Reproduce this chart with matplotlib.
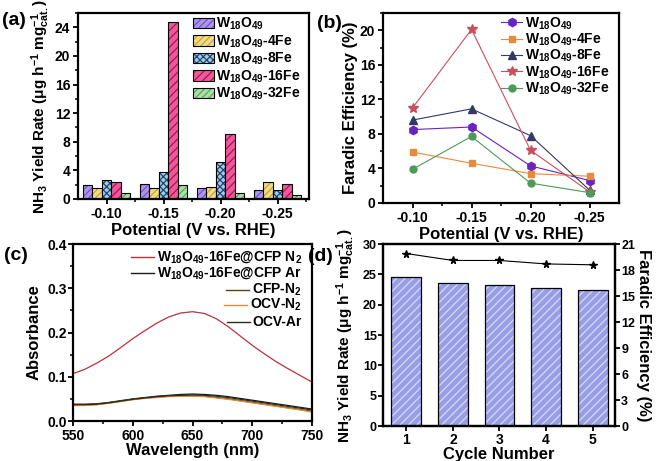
import matplotlib
matplotlib.use('Agg')
import matplotlib.pyplot as plt
from matplotlib.ticker import MultipleLocator, FixedLocator
from matplotlib.lines import Line2D
from matplotlib.patches import Patch
import numpy as np

plt.rcParams['font.family'] = ['Liberation Sans', 'DejaVu Sans']
plt.rcParams['font.weight'] = 'bold'
plt.rcParams['axes.labelweight'] = 'bold'
plt.rcParams['mathtext.fontset'] = 'custom'
plt.rcParams['mathtext.rm'] = 'Liberation Sans:bold'
plt.rcParams['mathtext.bf'] = 'Liberation Sans:bold'
plt.rcParams['mathtext.it'] = 'Liberation Sans:bold'
plt.rcParams['mathtext.default'] = 'rm'
plt.rcParams['axes.linewidth'] = 1.6
plt.rcParams['xtick.major.width'] = 1.3
plt.rcParams['ytick.major.width'] = 1.3
plt.rcParams['xtick.minor.width'] = 1.1
plt.rcParams['ytick.minor.width'] = 1.1
plt.rcParams['xtick.major.size'] = 3.5
plt.rcParams['ytick.major.size'] = 3.5
plt.rcParams['xtick.minor.size'] = 2
plt.rcParams['ytick.minor.size'] = 2
plt.rcParams['xtick.major.pad'] = 2.5
plt.rcParams['ytick.major.pad'] = 2.0
plt.rcParams['xtick.labelsize'] = 10
plt.rcParams['ytick.labelsize'] = 10
plt.rcParams['hatch.linewidth'] = 0.9

# ---- data ----
potentials = ['-0.10', '-0.15', '-0.20', '-0.25']
samples = [r'W$_{18}$O$_{49}$', r'W$_{18}$O$_{49}$-4Fe', r'W$_{18}$O$_{49}$-8Fe',
           r'W$_{18}$O$_{49}$-16Fe', r'W$_{18}$O$_{49}$-32Fe']

# (a) NH3 yield rate
yield_w = [1.9, 2.1, 1.5, 1.3]
yield_4fe = [1.6, 1.6, 1.7, 2.4]
yield_8fe = [2.6, 3.8, 5.2, 1.2]
yield_16fe = [2.4, 24.8, 9.1, 2.1]
yield_32fe = [0.9, 1.9, 0.9, 0.6]

# (b) faradic efficiency
fe_w = [8.5, 8.8, 4.3, 2.6]
fe_4fe = [5.9, 4.6, 3.4, 3.1]
fe_8fe = [9.6, 10.9, 7.8, 1.5]
fe_16fe = [11.0, 20.1, 6.1, 1.3]
fe_32fe = [3.9, 7.7, 2.3, 1.2]

# (c) UV-vis
wavelength = [550, 560, 570, 580, 590, 600, 610, 620, 630, 640, 650,
              660, 670, 680, 690, 700, 710, 720, 730, 740, 750]
abs_n2 = [0.107, 0.117, 0.131, 0.147, 0.166, 0.186, 0.204, 0.221, 0.235, 0.244, 0.247,
          0.243, 0.231, 0.213, 0.192, 0.171, 0.152, 0.134, 0.118, 0.103, 0.088]
abs_ar = [0.038, 0.038, 0.039, 0.042, 0.046, 0.050, 0.053, 0.056, 0.058, 0.060, 0.061,
          0.060, 0.058, 0.055, 0.051, 0.047, 0.043, 0.039, 0.035, 0.031, 0.027]
abs_cfp_n2 = [0.036, 0.036, 0.037, 0.041, 0.045, 0.049, 0.052, 0.054, 0.056, 0.057, 0.057,
              0.056, 0.053, 0.050, 0.046, 0.042, 0.038, 0.034, 0.030, 0.026, 0.022]
abs_ocv_n2 = [0.035, 0.035, 0.037, 0.040, 0.044, 0.048, 0.051, 0.053, 0.055, 0.056, 0.056,
              0.055, 0.052, 0.049, 0.045, 0.041, 0.037, 0.033, 0.029, 0.025, 0.020]
abs_ocv_ar = [0.037, 0.037, 0.038, 0.041, 0.045, 0.049, 0.052, 0.055, 0.057, 0.058, 0.059,
              0.058, 0.056, 0.053, 0.049, 0.045, 0.041, 0.037, 0.033, 0.029, 0.025]
uv_labels = [r'W$_{18}$O$_{49}$-16Fe@CFP N$_2$', r'W$_{18}$O$_{49}$-16Fe@CFP Ar',
             r'CFP-N$_2$', r'OCV-N$_2$', 'OCV-Ar']

# (d) cycling
cycles = [1, 2, 3, 4, 5]
cycle_yield = [24.6, 23.5, 23.2, 22.8, 22.5]
cycle_fe = [19.9, 19.1, 19.1, 18.7, 18.6]

fig = plt.figure(figsize=(6.57, 4.61), dpi=100)
W, H = 657.0, 461.0

def box(l, t, r, b):
    return [l / W, 1 - b / H, (r - l) / W, (b - t) / H]

ax_a = fig.add_axes(box(78, 13, 309, 199))
ax_b = fig.add_axes(box(383, 13, 619, 203))
ax_c = fig.add_axes(box(73, 244, 312, 421))
ax_d = fig.add_axes(box(383, 244, 615, 426))

def style_axes(ax):
    ax.tick_params(which='both', direction='out', top=False, right=False)
    for s in ax.spines.values():
        s.set_linewidth(1.6)

yield_label = r'NH$_3$ Yield Rate (μg h$^{-1}$ mg$^{-1}_{cat.}$)'

# ---- (a) ----
yields = [yield_w, yield_4fe, yield_8fe, yield_16fe, yield_32fe]
faces = ['#ab97ea', '#f0dc86', '#9ad2dc', '#ec5a9c', '#acdfa8']
hatch_cols = ['#7a4fd0', '#c9a23a', '#2a3f7a', '#b01050', '#5aa85a']
hatches = ['/////', '/////', 'xxxxx', '////', '/////']
x = np.arange(1, len(potentials) + 1)
bw = 0.167
handles = []
for i, vals in enumerate(yields):
    pos = x + (i - 2) * bw
    ax_a.bar(pos, vals, bw, color=faces[i], edgecolor=hatch_cols[i], hatch=hatches[i], linewidth=0)
    ax_a.bar(pos, vals, bw, fill=False, edgecolor='black', linewidth=0.8)
    handles.append((Patch(facecolor=faces[i], edgecolor=hatch_cols[i], hatch=hatches[i], linewidth=0),
                    Patch(fill=False, edgecolor='black', linewidth=0.8)))
ax_a.set_xlim(0.5, 4.55)
ax_a.set_ylim(0, 26)
ax_a.set_xticks(x)
ax_a.set_xticklabels(potentials)
ax_a.xaxis.set_minor_locator(FixedLocator([1.5, 2.5, 3.5, 4.5]))
ax_a.yaxis.set_major_locator(MultipleLocator(4))
ax_a.yaxis.set_minor_locator(MultipleLocator(2))
style_axes(ax_a)
ax_a.set_xlabel('Potential (V vs. RHE)', fontsize=12, labelpad=1)
ax_a.set_ylabel(yield_label, fontsize=11, labelpad=2)
ax_a.legend(handles, samples, loc='upper right', bbox_to_anchor=(1.0, 1.03), frameon=False,
            fontsize=10, handlelength=1.5, handleheight=0.8, handletextpad=0.2,
            labelspacing=0.08, borderaxespad=0.2)

# ---- (b) ----
fes = [fe_w, fe_4fe, fe_8fe, fe_16fe, fe_32fe]
line_cols = ['#6a22c0', '#e88a3c', '#353866', '#c8505a', '#4f9a58']
markers = ['h', 's', '^', '*', 'o']
msizes = [6, 5, 5.5, 7.5, 5]
for i, vals in enumerate(fes):
    ax_b.plot(x, vals, color=line_cols[i], marker=markers[i], markersize=msizes[i],
              linewidth=0.8, label=samples[i])
ax_b.set_xlim(0.5, 4.5)
ax_b.set_ylim(0, 22)
ax_b.set_xticks(x)
ax_b.set_xticklabels(potentials)
ax_b.xaxis.set_minor_locator(FixedLocator([1.5, 2.5, 3.5]))
ax_b.yaxis.set_major_locator(MultipleLocator(4))
ax_b.yaxis.set_minor_locator(MultipleLocator(2))
style_axes(ax_b)
ax_b.set_xlabel('Potential (V vs. RHE)', fontsize=12, labelpad=1)
ax_b.set_ylabel('Faradic Efficiency (%)', fontsize=12, labelpad=1)
ax_b.legend(loc='upper right', bbox_to_anchor=(1.0, 1.04), frameon=False, fontsize=10,
            handlelength=1.5, handletextpad=0.2, labelspacing=0.0, borderaxespad=0.3)

# ---- (c) ----
uv_data = [abs_n2, abs_ar, abs_cfp_n2, abs_ocv_n2, abs_ocv_ar]
uv_cols = ['#b8323c', '#1a1a1a', '#5a4510', '#e08a3a', '#2b2b1a']
for vals, col in zip(uv_data, uv_cols):
    ax_c.plot(wavelength, vals, color=col, linewidth=0.9)
ax_c.set_xlim(550, 750)
ax_c.set_ylim(0, 0.4)
ax_c.xaxis.set_major_locator(MultipleLocator(50))
ax_c.xaxis.set_minor_locator(MultipleLocator(25))
ax_c.yaxis.set_major_locator(MultipleLocator(0.1))
ax_c.yaxis.set_minor_locator(MultipleLocator(0.05))
style_axes(ax_c)
ax_c.tick_params(axis='y', pad=1)
ax_c.set_xlabel('Wavelength (nm)', fontsize=12, labelpad=0)
ax_c.set_ylabel('Absorbance', fontsize=12, labelpad=4)

# legend for (c): right-aligned text, line handle in front of it
row_y = [0.927, 0.836, 0.740, 0.655, 0.559]
fig.canvas.draw()
renderer = fig.canvas.get_renderer()
inv = ax_c.transAxes.inverted()
for lab, col, yy in zip(uv_labels, uv_cols, row_y):
    t = ax_c.text(0.958, yy, lab, transform=ax_c.transAxes, ha='right', va='center', fontsize=10)
    bb = t.get_window_extent(renderer)
    x_left = inv.transform((bb.x0, bb.y0))[0]
    gap = 3.0 / ax_c.bbox.width
    hl = 23.0 / ax_c.bbox.width
    ax_c.add_line(Line2D([x_left - gap - hl, x_left - gap], [yy, yy], transform=ax_c.transAxes,
                         color=col, linewidth=1.0))

# ---- (d) ----
ax_d.bar(cycles, cycle_yield, 0.64, color='#9c9ce6', edgecolor='#c6e2f4', hatch='////', linewidth=0)
ax_d.bar(cycles, cycle_yield, 0.64, fill=False, edgecolor='black', linewidth=0.9)
ax_d.set_xlim(0.5, 5.48)
ax_d.set_ylim(0, 30)
ax_d.set_xticks(cycles)
ax_d.yaxis.set_major_locator(MultipleLocator(5))
style_axes(ax_d)
ax_d.tick_params(axis='x', pad=1.5)
ax_d.tick_params(axis='y', pad=1.0, labelsize=9)
ax_d.set_xlabel('Cycle Number', fontsize=12, labelpad=0)
ax_d.set_ylabel(yield_label, fontsize=11)
ax_d.yaxis.set_label_coords(-0.11, 0.5)
ax_d2 = ax_d.twinx()
ax_d2.plot(cycles, cycle_fe, color='black', marker='*', markersize=5.5, linewidth=0.8)
ax_d2.set_ylim(0, 21)
ax_d2.yaxis.set_major_locator(MultipleLocator(3))
ax_d2.tick_params(direction='out', pad=1.0, labelsize=9)
for s in ax_d2.spines.values():
    s.set_linewidth(1.6)
ax_d2.set_ylabel('Faradic Efficiency (%)', fontsize=12, rotation=270, labelpad=11)

# panel letters
fig.text(0.003, 0.955, '(a)', fontsize=14, fontweight='bold', va='center')
fig.text(0.482, 0.948, '(b)', fontsize=14, fontweight='bold', va='center')
fig.text(0.006, 0.445, '(c)', fontsize=14, fontweight='bold', va='center')
fig.text(0.469, 0.443, '(d)', fontsize=14, fontweight='bold', va='center')

plt.savefig('out.png', dpi=100)
